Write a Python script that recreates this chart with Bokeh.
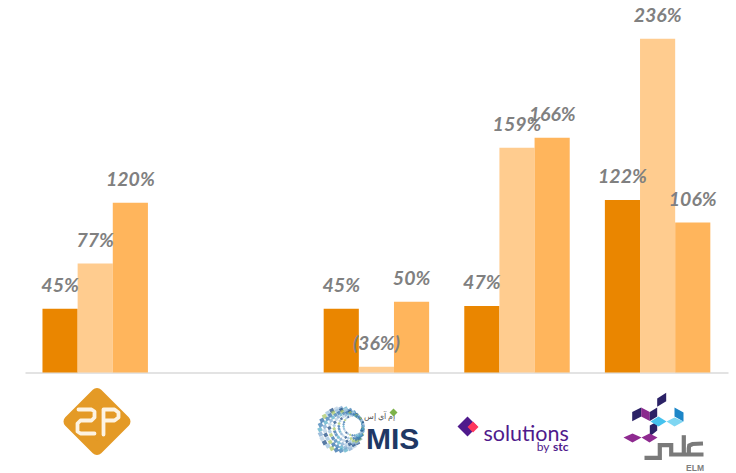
import math

from bokeh.core.properties import value
from bokeh.embed import file_html
from bokeh.models import ColumnDataSource, Range1d
from bokeh.plotting import figure
from bokeh.resources import INLINE

# Category slots; the second slot is intentionally empty
companies = ["2P", "", "MIS", "solutions by stc", "ELM"]
series_colors = ["#EA8600", "#FFCC8F", "#FFB55C"]

# The MIS entry of series_b is a short positive bar of about 4 units, although
# its label reads "(36%)": the height and the label do not agree for this bar.
series_a = [45, None, 45, 47, 122]
series_b = [77, None, 4, 159, 236]
series_c = [120, None, 50, 166, 106]

labels_a = ["45%", "", "45%", "47%", "122%"]
labels_b = ["77%", "", "(36%)", "159%", "236%"]
labels_c = ["120%", "", "50%", "166%", "106%"]

W, H = 736, 473
X0, SLOT = 94.7, 140.6        # pixel centre of the first slot, slot pitch
BASE, PER_UNIT = 372.0, 1.414  # baseline pixel row, pixels per percentage point

p = figure(
    width=W, height=H, output_backend="svg", toolbar_location=None,
    x_range=Range1d(-X0 / SLOT, (W - X0) / SLOT),
    y_range=Range1d((BASE - H) / PER_UNIT, BASE / PER_UNIT),
    min_border=0, x_axis_type="linear", outline_line_color=None,
    background_fill_color="white", border_fill_color="white",
)
p.axis.visible = False
p.grid.visible = False

# Pixel-space ranges for the baseline and the company marks
p.extra_x_ranges["px"] = Range1d(0, W)
p.extra_y_ranges["px"] = Range1d(H, 0)


def px(glyph, **kw):
    return getattr(p, glyph)(x_range_name="px", y_range_name="px", **kw)


px("line", x=[25, 728], y=[372.5, 372.5], line_color="#E3E3E3", line_width=2)

sources = []
for offset, vals, texts, color in zip(
    (-0.25, 0.0, 0.25),
    (series_a, series_b, series_c),
    (labels_a, labels_b, labels_c),
    series_colors,
):
    keep = [i for i, v in enumerate(vals) if v is not None]
    src = ColumnDataSource(dict(
        x=[i + offset for i in keep],
        top=[vals[i] for i in keep],
        label=[texts[i] for i in keep],
    ))
    sources.append(src)
    p.vbar(x="x", top="top", bottom=0, width=0.25, source=src,
           fill_color=color, line_color=None)

# Labels go on after every bar so that none of them is covered
for src in sources:
    p.text(x="x", y="top", text="label", source=src, y_offset=-24.5,
           text_align="center", text_baseline="middle",
           text_color="#808080", text_font=value("Lato"),
           text_font_size="19.5px", text_font_style="bold italic")

# --- 2P mark: rounded diamond with white lettering
px("patch", x=[96.5, 124, 96.5, 69], y=[393.5, 421, 448.5, 421],
   fill_color="#E49A26", line_color="#E49A26", line_width=12, line_join="round")
px("multi_line",
   xs=[[78, 91, 94, 94, 91, 80, 77, 77, 80, 94],
       [103, 103, 114, 118, 118, 114, 103]],
   ys=[[409, 409, 411, 417, 420, 420, 423, 431, 433, 433],
       [434, 409, 409, 412, 417, 420, 420]],
   line_color="#FDF3E2", line_width=3.8, line_join="round", line_cap="round")

# --- MIS mark: eccentric dotted globe, wordmark and Arabic caption
palette = ["#2F6CA8", "#7FA8CF", "#9CC2DD", "#3E7FB5", "#B7CFE3", "#A9C86A", "#5AAFC8", "#1F4E86"]
gx, gy, gc, gs = [], [], [], []
rings = 6
for ring in range(rings):
    t = ring / (rings - 1)
    cx = 340.5 + t * 12.5
    cy = 429 - t * 4
    radius = 21 - t * 11
    count = 28
    for n in range(count):
        a = 2 * math.pi * n / count + ring * 0.112
        gx.append(cx + radius * math.cos(a))
        gy.append(cy + radius * math.sin(a))
        gc.append(palette[(n * 5 + ring * 3) % len(palette)])
        gs.append(4.2 - 2.2 * t)
px("scatter", x=gx, y=gy, size=gs, marker="square", angle=0.5,
   fill_color=gc, line_color=None, fill_alpha=0.75)
px("scatter", x=[353], y=[425], size=16, marker="circle", fill_color="white", line_color=None)
px("text", x=[365.5], y=[438], text=["MIS"], text_color="#1F3864",
   text_font=value("Liberation Sans"), text_font_size="30px", text_font_style="bold",
   text_baseline="alphabetic")
px("text", x=[363], y=[415], text=["إم آي إس"], text_color="#555555",
   text_font=value("Noto Sans"), text_font_size="8px", text_baseline="alphabetic")
px("patch", x=[393, 397, 393, 389], y=[408, 412, 416, 412], fill_color="#7DB24A", line_color=None)

# --- solutions by stc mark
px("patch", x=[457, 467, 477, 467], y=[426, 416, 426, 436], fill_color="#4F1A8C", line_color=None)
px("patch", x=[467, 472.5, 478, 472.5], y=[426.5, 421, 426.5, 432], fill_color="#FF375E", line_color=None)
px("text", x=[483], y=[432], text=["solutions"], text_color="#4F1A8C",
   text_font=value("Lato"), text_font_size="21.5px", text_baseline="alphabetic")
px("text", x=[549], y=[446], text=["by"], text_color="#4F1A8C", text_align="right",
   text_font=value("Lato"), text_font_size="12px", text_baseline="alphabetic")
px("text", x=[568], y=[446], text=["stc"], text_color="#4F1A8C", text_align="right",
   text_font=value("Lato"), text_font_size="12px", text_font_style="bold",
   text_baseline="alphabetic")

# --- ELM mark: isometric faces, Arabic strokes and caption
faces = [
    ([656.7, 665.7, 665.7, 656.7], [398, 392.3, 400.7, 406.3], "#2B2266"),
    ([631.7, 640.7, 640.7, 631.7], [411.5, 407, 416, 420.7], "#2B2266"),
    ([640.7, 649.3, 649.3, 640.7], [407, 411.5, 420.5, 416], "#8A2A8E"),
    ([649.3, 656.7, 656.7, 649.3], [411.5, 407, 416, 420.5], "#2B2266"),
    ([649.3, 656.7, 656.7, 649.3], [425, 421, 430, 436], "#2B2266"),
    ([650, 658, 666, 658], [421, 416, 421, 426], "#45C2EE"),
    ([666, 674, 683, 674], [421, 417, 421, 426], "#7FD6F2"),
    ([674, 683, 683, 674], [407, 412, 421, 416], "#1C86C8"),
    ([623, 632, 641, 632], [437, 433, 437, 442], "#8E2A90"),
    ([641, 649, 657, 649], [437, 433, 437, 442], "#8E2A90"),
]
for fx, fy, fc in faces:
    px("patch", x=fx, y=fy, fill_color=fc, line_color=None)
px("multi_line",
   xs=[[644, 659.3, 659.3, 670.7, 670.7, 703], [683.3, 683.3], [702.5, 692, 688.8, 688.3, 688.3]],
   ys=[[457.3, 457.3, 444.7, 444.7, 454, 454], [454, 434.7], [443, 443.5, 445, 448, 454]],
   line_color="#7A7A7A", line_width=4.2, line_join="miter")
px("text", x=[694.5], y=[467], text=["ELM"], text_color="#808080", text_align="center",
   text_baseline="middle", text_font=value("Liberation Sans"), text_font_size="8.5px",
   text_font_style="bold")

open("out.html", "w").write(file_html(p, INLINE))
